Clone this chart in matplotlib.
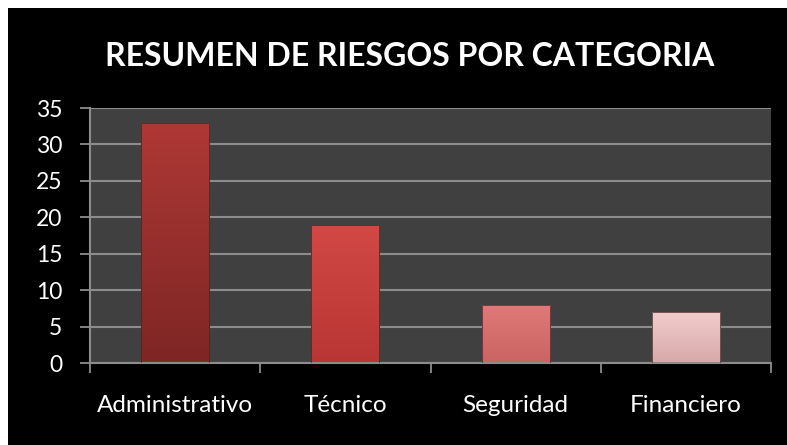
import numpy as np
import matplotlib.pyplot as plt
from matplotlib.patches import Rectangle
from matplotlib.colors import LinearSegmentedColormap

categorias = ['Administrativo', 'Técnico', 'Seguridad', 'Financiero']
riesgos = [33, 19, 8, 7]
colores_top = ['#AE3835', '#D24845', '#E07A78', '#F2CCCC']
colores_bot = ['#7E2624', '#B83634', '#C96462', '#D7A9A9']

plt.rcParams['font.family'] = ['Lato', 'DejaVu Sans']

fig = plt.figure(figsize=(7.87, 4.45), dpi=100, facecolor='white')
# fondo negro con borde blanco arriba/izquierda
fig.patches.append(Rectangle((8/787, 0), 1, 1 - 8/445, transform=fig.transFigure,
                             facecolor='black', edgecolor='none', zorder=-10))

ax = fig.add_axes([90/787, 1 - 363/445, (771-90)/787, (363-108)/445])
ax.set_facecolor('#404040')

x = np.arange(len(categorias))
barras = ax.bar(x, riesgos, width=0.4, color='none', edgecolor='#4a2020', linewidth=0.5, zorder=3)

# degradado dentro de cada barra
for b, ct, cb in zip(barras, colores_top, colores_bot):
    cmap = LinearSegmentedColormap.from_list('g', [cb, ct])
    grad = np.linspace(0, 1, 100).reshape(-1, 1)
    im = ax.imshow(grad, cmap=cmap, aspect='auto', origin='lower',
                   extent=(b.get_x(), b.get_x() + b.get_width(), 0, b.get_height()), zorder=2)
    im.set_clip_path(b)

ax.set_xlim(-0.5, 3.5)
ax.set_ylim(0, 35)
ax.set_yticks(range(0, 36, 5))
ax.yaxis.grid(True, color='#8c8c8c', linewidth=1.5, zorder=1)
ax.set_axisbelow(True)

# ticks mayores en los bordes de categoria, etiquetas en minor
ax.set_xticks(np.arange(-0.5, 4, 1))
ax.set_xticklabels([])
ax.set_xticks(x, minor=True)
ax.set_xticklabels(categorias, minor=True)
ax.tick_params(axis='x', which='major', length=7, width=1.3, color='#8c8c8c', direction='out')
ax.tick_params(axis='x', which='minor', length=0, pad=23, labelsize=17.5, labelcolor='white')
ax.tick_params(axis='y', length=7, width=1.3, color='#8c8c8c', pad=13, labelsize=16.5, labelcolor='white')

for s in ['top', 'right']:
    ax.spines[s].set_visible(False)
for s in ['left', 'bottom']:
    ax.spines[s].set_color('#8c8c8c')
    ax.spines[s].set_linewidth(1.5)

fig.text(0.52, 1 - 56/445, 'RESUMEN DE RIESGOS POR CATEGORIA', color='white',
         fontsize=23, fontweight='bold', ha='center', va='center')

fig.savefig('out.png', dpi=100, facecolor=fig.get_facecolor())
